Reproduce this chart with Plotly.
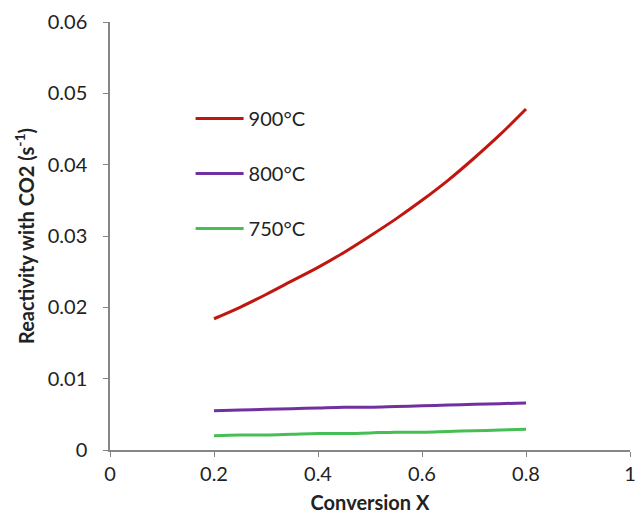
import plotly.graph_objects as go

conversion = [0.2, 0.25, 0.3, 0.35, 0.4, 0.45, 0.5, 0.55, 0.6, 0.65, 0.7, 0.75, 0.8]
r900 = [0.0184, 0.0200, 0.0218, 0.0237, 0.0256, 0.0277, 0.0300, 0.0324, 0.0350, 0.0378, 0.0409, 0.0442, 0.0478]
r800 = [0.0055, 0.0056, 0.0057, 0.0058, 0.0059, 0.0060, 0.0060, 0.0061, 0.0062, 0.0063, 0.0064, 0.0065, 0.0066]
r750 = [0.0020, 0.0021, 0.0021, 0.0022, 0.0023, 0.0023, 0.0024, 0.0025, 0.0025, 0.0026, 0.0027, 0.0028, 0.0029]
series_names = ["900°C", "800°C", "750°C"]
colors = ["#C0160F", "#7030A0", "#45BF55"]
x_ticks = [0, 0.2, 0.4, 0.6, 0.8, 1]
x_tick_text = ["0", "0.2", "0.4", "0.6", "0.8", "1"]
y_ticks = [0, 0.01, 0.02, 0.03, 0.04, 0.05, 0.06]
y_tick_text = ["0", "0.01", "0.02", "0.03", "0.04", "0.05", "0.06"]

FONT = "Lato"
fig = go.Figure()
for name, ys, c in zip(series_names, [r900, r800, r750], colors):
    fig.add_trace(go.Scatter(x=conversion, y=ys, mode="lines", name=name,
                             legendgroup=name, line=dict(color=c, width=3, shape="spline")))

axis_common = dict(showgrid=False, zeroline=False, showline=True, linecolor="#868686",
                   linewidth=1.5, ticks="outside", ticklen=5, tickcolor="#868686",
                   automargin=False,
                   tickfont=dict(family=FONT, size=20, color="#222222"))
fig.update_layout(
    width=638, height=517,
    margin=dict(l=110, r=8, t=22, b=67),
    paper_bgcolor="white", plot_bgcolor="white",
    font=dict(family=FONT, color="#222222"),
    xaxis=dict(range=[0, 1], tickvals=x_ticks, ticktext=x_tick_text,
               ticklabeloverflow="allow",
               title=dict(text="<b>Conversion X</b>", font=dict(family=FONT, size=20), standoff=12),
               **axis_common),
    yaxis=dict(range=[0, 0.06], tickvals=y_ticks, ticktext=y_tick_text,
               ticklabelstandoff=12,
               title=dict(text="<b>Reactivity with CO2 (s<sup>-1</sup>)</b>", font=dict(family=FONT, size=20), standoff=8),
               **axis_common),
    legend=dict(x=0.155, y=0.82, xanchor="left", yanchor="top", bgcolor="rgba(0,0,0,0)",
                font=dict(family=FONT, size=20, color="#222222"), tracegroupgap=26,
                itemwidth=48),
    showlegend=True,
)
fig.write_html("out.html", config={"displayModeBar": False},
               post_script="document.body.style.margin='0px';")
